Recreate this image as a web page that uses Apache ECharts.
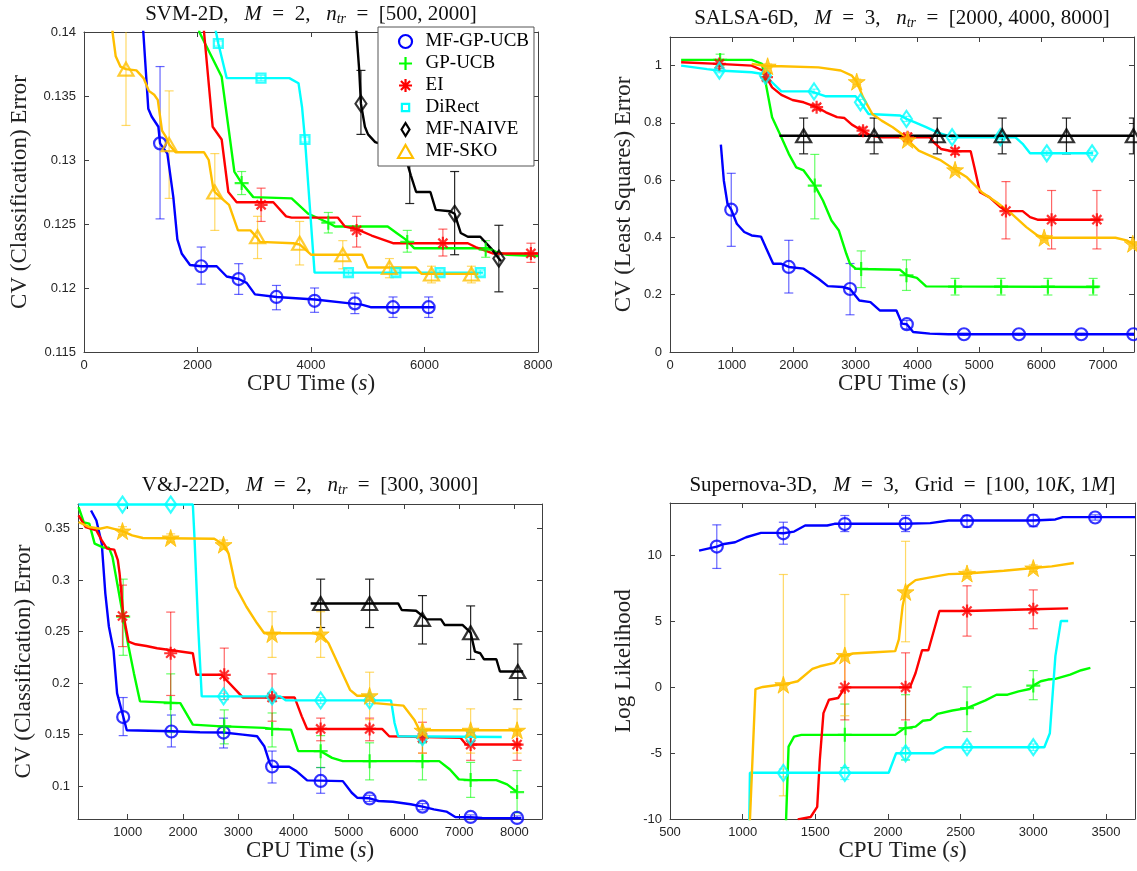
<!DOCTYPE html>
<html>
<head>
<meta charset="utf-8">
<script src="https://cdn.jsdelivr.net/npm/echarts@6/dist/echarts.min.js"></script>
<style>
  html, body { margin: 0; padding: 0; background: #fff; }
  #chart { width: 1137px; height: 871px; }
</style>
</head>
<body>
<div id="chart"></div>
<script>
// ---------- Method names ----------
const methods = ['MF-GP-UCB', 'GP-UCB', 'EI', 'DiRect', 'MF-NAIVE', 'MF-SKO'];

// ---------- SVM-2D (curve: [time, error]; marks: [time, error, low, high]) ----------
const svmXTicks = [0, 2000, 4000, 6000, 8000];
const svmYTicks = [0.115, 0.12, 0.125, 0.13, 0.135, 0.14];
const svmMfgpCurve = [[1020,0.1420],[1045,0.1400],[1133,0.1340],[1192,0.1334],[1310,0.1326],[1340,0.1313],[1469,0.1305],[1574,0.1271],[1645,0.1238],[1721,0.1227],[1868,0.1218],[2062,0.1217],[2338,0.1217],[2514,0.1209],[2725,0.1207],[2866,0.1204],[3013,0.1195],[3395,0.1193],[4070,0.1191],[4687,0.1188],[4893,0.1187],[5050,0.1185],[6170,0.1185]];
const svmMfgpMarks = [[1340,0.1313,0.1254,0.1373],[2065,0.1217,0.1203,0.1232],[2726,0.1207,0.1195,0.1219],[3391,0.1193,0.1183,0.1202],[4063,0.1190,0.1181,0.1200],[4773,0.1188,0.1180,0.1196],[5445,0.1185,0.1177,0.1193],[6073,0.1185,0.1177,0.1193]];
const svmGpCurve = [[2010,0.1410],[2032,0.1400],[2426,0.1365],[2649,0.1291],[2778,0.1282],[2983,0.1271],[3659,0.1270],[3953,0.1258],[4305,0.1251],[4423,0.1248],[5351,0.1248],[5508,0.1243],[5665,0.1238],[5822,0.1231],[7140,0.1231],[7266,0.1228],[7454,0.1226],[8000,0.1225]];
const svmGpMarks = [[2778,0.1282,0.1273,0.1291],[4305,0.1251,0.1243,0.1259],[5696,0.1236,0.1228,0.1245],[7078,0.1230,0.1224,0.1237]];
const svmEiCurve = [[2100,0.1410],[2115,0.1400],[2267,0.1326],[2426,0.1316],[2543,0.1275],[2690,0.1267],[3336,0.1267],[3561,0.1256],[3659,0.1255],[4471,0.1255],[4597,0.1248],[4804,0.1246],[5068,0.1241],[5445,0.1235],[6764,0.1235],[6900,0.1232],[7203,0.1227],[8000,0.1227]];
const svmEiMarks = [[3121,0.1265,0.1252,0.1278],[4804,0.1245,0.1232,0.1256],[6324,0.1235,0.1225,0.1246],[7875,0.1227,0.1220,0.1235]];
const svmDirectCurve = [[2290,0.1410],[2326,0.1400],[2367,0.1391],[2514,0.1364],[3618,0.1364],[3780,0.1360],[3843,0.1341],[3894,0.1316],[4063,0.1212],[7030,0.1212]];
const svmDirectMarks = [[2367,0.1391,0.1389,0.1393],[3119,0.1364,0.1362,0.1366],[3894,0.1316,0.1314,0.1318],[4660,0.1212,0.1210,0.1214],[5495,0.1212,0.1210,0.1214],[6274,0.1212,0.1210,0.1214],[6983,0.1212,0.1210,0.1214]];
const svmNaiveCurve = [[4790,0.1420],[4800,0.1400],[4850,0.1370],[4880,0.1344],[4950,0.1326],[5005,0.1320],[5131,0.1314],[5400,0.1310],[5600,0.1303],[5700,0.1297],[5759,0.1288],[5853,0.1275],[6104,0.1275],[6198,0.1261],[6450,0.1260],[6531,0.1258],[6638,0.1243],[6764,0.1240],[6983,0.1240],[7172,0.1231],[7310,0.1223],[7350,0.1221]];
const svmNaiveMarks = [[4880,0.1344,0.1320,0.1370],[5740,0.1303,0.1266,0.1340],[6531,0.1258,0.1226,0.1291],[7310,0.1223,0.1197,0.1249]];
const svmSkoCurve = [[490,0.1420],[502,0.1400],[559,0.1381],[641,0.1373],[740,0.1371],[923,0.1370],[1049,0.1364],[1143,0.1354],[1237,0.1351],[1300,0.1347],[1375,0.1323],[1444,0.1318],[1500,0.1312],[1614,0.1306],[2116,0.1306],[2198,0.1300],[2273,0.1279],[2305,0.1275],[2399,0.1271],[2556,0.1265],[2713,0.1245],[2933,0.1245],[3058,0.1239],[3100,0.1236],[3686,0.1235],[3800,0.1234],[4000,0.1226],[4900,0.1226],[5000,0.1216],[5850,0.1216],[5950,0.1211],[6950,0.1211]];
const svmSkoMarks = [[740,0.1371,0.1327,0.1415],[1500,0.1312,0.1270,0.1354],[2305,0.1275,0.1245,0.1305],[3058,0.1240,0.1223,0.1256],[3800,0.1235,0.1218,0.1252],[4560,0.1226,0.1215,0.1237],[5382,0.1216,0.1208,0.1223],[6123,0.1211,0.1204,0.1217],[6826,0.1211,0.1204,0.1217]];

// ---------- SALSA-6D ----------
const salsaXTicks = [0, 1000, 2000, 3000, 4000, 5000, 6000, 7000];
const salsaYTicks = [0, 0.2, 0.4, 0.6, 0.8, 1];
const salsaMfgpCurve = [[822,0.724],[870,0.599],[930,0.517],[990,0.497],[1080,0.448],[1200,0.419],[1320,0.407],[1470,0.403],[1560,0.36],[1668,0.308],[1800,0.308],[1920,0.297],[2160,0.291],[2400,0.256],[2550,0.230],[2790,0.227],[2910,0.220],[3060,0.180],[3240,0.174],[3390,0.145],[3660,0.145],[3750,0.099],[3828,0.097],[3930,0.070],[4200,0.064],[4500,0.062],[7500,0.062]];
const salsaMfgpMarks = [[990,0.497,0.369,0.624],[1920,0.297,0.206,0.390],[2910,0.220,0.130,0.309],[3828,0.097,0.081,0.110],[4752,0.062,0.058,0.066],[5640,0.062,0.058,0.066],[6648,0.062,0.058,0.066],[7490,0.062,0.058,0.066]];
const salsaGpCurve = [[180,1.02],[1320,1.02],[1488,1.006],[1560,0.924],[1650,0.82],[1800,0.75],[1920,0.692],[2040,0.645],[2160,0.634],[2340,0.581],[2472,0.529],[2610,0.459],[2730,0.424],[2850,0.343],[2910,0.308],[3000,0.291],[3090,0.290],[3720,0.287],[3822,0.268],[3990,0.259],[4140,0.229],[6930,0.227]];
const salsaGpMarks = [[810,1.02,1.00,1.04],[2340,0.581,0.465,0.690],[3090,0.290,0.225,0.353],[3822,0.268,0.215,0.322],[4608,0.228,0.199,0.257],[5352,0.228,0.199,0.257],[6108,0.228,0.199,0.257],[6840,0.228,0.199,0.257]];
const salsaEiCurve = [[180,1.012],[780,1.006],[1320,1.0],[1500,0.983],[1650,0.924],[1800,0.898],[1980,0.88],[2160,0.872],[2370,0.855],[2520,0.837],[2700,0.82],[2820,0.817],[2940,0.794],[3060,0.779],[3120,0.773],[3240,0.756],[3420,0.75],[4200,0.75],[4260,0.733],[4380,0.709],[4560,0.701],[4860,0.701],[4920,0.645],[5010,0.558],[5160,0.541],[5340,0.506],[5430,0.492],[5700,0.492],[5820,0.471],[5940,0.462],[6960,0.462]];
const salsaEiMarks = [[798,1.006,0.99,1.02],[1560,0.96,0.95,0.975],[2370,0.855,0.845,0.865],[3120,0.773,0.76,0.785],[3840,0.75,0.735,0.765],[4608,0.701,0.69,0.712],[5430,0.492,0.395,0.595],[6168,0.462,0.36,0.564],[6900,0.462,0.36,0.564]];
const salsaDirectCurve = [[180,1.0],[600,0.988],[780,0.983],[1320,0.977],[1500,0.971],[1542,0.965],[1650,0.942],[1800,0.91],[2280,0.91],[2520,0.893],[3000,0.893],[3078,0.872],[3210,0.831],[3720,0.826],[3822,0.814],[3960,0.802],[4140,0.785],[4320,0.767],[4560,0.75],[5580,0.75],[5700,0.727],[5820,0.694],[6840,0.694]];
const salsaDirectMarks = [[798,0.983,0.975,0.991],[1542,0.965,0.955,0.975],[2328,0.91,0.902,0.918],[3078,0.872,0.862,0.882],[3822,0.814,0.805,0.823],[4560,0.75,0.742,0.758],[5340,0.75,0.742,0.758],[6090,0.694,0.686,0.702],[6822,0.694,0.686,0.702]];
const salsaNaiveCurve = [[1770,0.755],[7500,0.755]];
const salsaNaiveMarks = [[2160,0.755,0.692,0.817],[3300,0.755,0.692,0.817],[4320,0.755,0.692,0.817],[5370,0.755,0.692,0.817],[6408,0.755,0.692,0.817],[7490,0.755,0.692,0.817]];
const salsaSkoCurve = [[1320,1.006],[1578,0.998],[1800,0.998],[2400,0.994],[2760,0.983],[2940,0.965],[3018,0.944],[3120,0.89],[3270,0.831],[3420,0.808],[3600,0.785],[3780,0.756],[3840,0.741],[4020,0.703],[4200,0.686],[4380,0.669],[4608,0.636],[4800,0.61],[5040,0.558],[5280,0.523],[5520,0.483],[5760,0.436],[5940,0.407],[6048,0.399],[7200,0.399],[7380,0.39],[7500,0.375]];
const salsaSkoMarks = [[1578,0.998,0.99,1.006],[3018,0.944,0.935,0.953],[3840,0.741,0.733,0.749],[4608,0.636,0.628,0.644],[6048,0.399,0.391,0.407],[7480,0.378,0.37,0.386]];

// ---------- V&J-22D ----------
const vjXTicks = [1000, 2000, 3000, 4000, 5000, 6000, 7000, 8000];
const vjYTicks = [0.1, 0.15, 0.2, 0.25, 0.3, 0.35];
const vjMfgpCurve = [[336,0.3677],[433,0.358],[530,0.3355],[595,0.287],[659,0.255],[743,0.232],[808,0.190],[918,0.1677],[983,0.1542],[1791,0.1532],[2308,0.1523],[2735,0.1520],[3084,0.150],[3342,0.1484],[3472,0.1387],[3569,0.1226],[3614,0.1187],[3924,0.1187],[4054,0.1145],[4248,0.1055],[4894,0.1048],[5056,0.0935],[5153,0.0887],[5379,0.0881],[5540,0.0855],[5799,0.0848],[6122,0.0823],[6336,0.0800],[6543,0.0774],[6769,0.0752],[6930,0.0700],[7208,0.0697],[7416,0.0690],[8127,0.0687]];
const vjMfgpMarks = [[918,0.167,0.149,0.186],[1791,0.153,0.138,0.169],[2735,0.152,0.137,0.166],[3614,0.119,0.103,0.134],[4493,0.105,0.093,0.118],[5379,0.088,0.085,0.091],[6336,0.080,0.077,0.083],[7208,0.070,0.068,0.072],[8049,0.069,0.067,0.071]];
const vjGpCurve = [[110,0.371],[207,0.356],[304,0.355],[401,0.3355],[562,0.3316],[659,0.3316],[724,0.3226],[821,0.2935],[918,0.2645],[1015,0.2355],[1112,0.2097],[1222,0.1823],[1952,0.1806],[2179,0.1597],[2696,0.158],[2748,0.158],[3472,0.1565],[3614,0.1555],[3957,0.1548],[4086,0.1339],[4493,0.1339],[4700,0.1274],[4894,0.1242],[6640,0.1242],[6834,0.1161],[6995,0.1065],[7208,0.1058],[7674,0.1058],[7868,0.1016],[8049,0.0942]];
const vjGpMarks = [[918,0.2645,0.227,0.301],[1778,0.1806,0.152,0.209],[2748,0.158,0.141,0.174],[3614,0.1555,0.138,0.171],[4493,0.1339,0.118,0.149],[5379,0.1242,0.106,0.142],[6336,0.1242,0.106,0.142],[7208,0.1058,0.089,0.123],[8049,0.0942,0.074,0.115]];
const vjEiCurve = [[110,0.363],[239,0.3516],[433,0.3484],[530,0.3387],[627,0.3306],[756,0.3297],[821,0.3194],[853,0.3065],[918,0.2677],[1015,0.2403],[1144,0.2377],[1338,0.2361],[1532,0.2339],[2179,0.229],[2243,0.2081],[2696,0.2081],[2955,0.1935],[3084,0.1861],[4021,0.1861],[4151,0.1677],[4248,0.1555],[5605,0.1555],[5734,0.1484],[7028,0.1468],[7125,0.1403],[8127,0.1403]];
const vjEiMarks = [[905,0.2652,0.2355,0.2952],[1778,0.229,0.188,0.269],[2748,0.2081,0.184,0.234],[3614,0.1861,0.163,0.209],[4493,0.1555,0.144,0.166],[5379,0.1555,0.144,0.166],[6336,0.147,0.132,0.162],[7208,0.1403,0.125,0.152],[8049,0.1403,0.125,0.154]];
const vjDirectCurve = [[110,0.3735],[2179,0.3735],[2211,0.3387],[2276,0.2548],[2340,0.1871],[3763,0.1871],[3860,0.1832],[5767,0.1832],[5831,0.1613],[5896,0.1484],[7771,0.1477]];
const vjDirectMarks = [[905,0.3735,0.3725,0.3745],[1778,0.3735,0.3725,0.3745],[2735,0.1871,0.184,0.190],[3614,0.1871,0.183,0.191],[4493,0.1832,0.180,0.186],[5379,0.1832,0.180,0.186],[6336,0.1475,0.142,0.153],[7208,0.1477,0.143,0.152]];
const vjNaiveCurve = [[4312,0.2774],[5896,0.2774],[5961,0.271],[6220,0.2703],[6414,0.2619],[6672,0.2619],[6737,0.2565],[7060,0.2565],[7208,0.249],[7286,0.2306],[7383,0.229],[7448,0.2232],[7674,0.2232],[7739,0.2113],[8159,0.2113]];
const vjNaiveMarks = [[4493,0.2774,0.254,0.301],[5379,0.2774,0.254,0.301],[6336,0.2619,0.238,0.285],[7208,0.249,0.223,0.275],[8062,0.2113,0.184,0.238]];
const vjSkoCurve = [[110,0.3565],[304,0.3516],[498,0.35],[627,0.3516],[905,0.3477],[1080,0.3435],[1274,0.341],[2567,0.3403],[2735,0.3345],[2826,0.3258],[2955,0.2935],[3149,0.2742],[3342,0.2581],[3472,0.2484],[4312,0.2484],[4493,0.2477],[4636,0.2387],[4830,0.2161],[5024,0.1935],[5153,0.1877],[5379,0.1877],[5476,0.1806],[5993,0.1781],[6187,0.1645],[6284,0.1542],[8127,0.1542]];
const vjSkoMarks = [[905,0.3477,0.344,0.352],[1778,0.341,0.337,0.345],[2735,0.3345,0.330,0.339],[3614,0.2477,0.225,0.2694],[4493,0.2477,0.225,0.2694],[5379,0.1877,0.1645,0.2106],[6336,0.1542,0.132,0.175],[7208,0.1542,0.132,0.175],[8049,0.1542,0.132,0.175]];

// ---------- Supernova-3D (log likelihood) ----------
const snXTicks = [500, 1000, 1500, 2000, 2500, 3000, 3500];
const snYTicks = [-10, -5, 0, 5, 10];
const snMfgpCurve = [[700,10.38],[822,10.69],[872,10.89],[948,11.02],[1024,11.4],[1126,11.73],[1227,11.73],[1280,11.7],[1354,11.83],[1430,12.29],[1582,12.29],[1632,12.42],[2114,12.42],[2291,12.47],[2418,12.67],[3000,12.67],[3152,12.75],[3203,12.93],[3700,12.93]];
const snMfgpMarks = [[822,10.69,9.03,12.34],[1280,11.7,10.87,12.54],[1703,12.4,11.83,13.05],[2121,12.42,11.83,13.05],[2544,12.62,12.16,13.05],[3000,12.67,12.2,13.1],[3426,12.9,12.7,13.1]];
const snGpCurve = [[1298,-10.3],[1316,-4.5],[1354,-3.74],[1404,-3.61],[2050,-3.61],[2114,-3.1],[2190,-2.98],[2240,-2.54],[2291,-2.47],[2342,-2.01],[2443,-1.76],[2544,-1.58],[2671,-0.99],[2747,-0.56],[2823,-0.56],[2899,-0.31],[2975,-0.13],[3000,0.13],[3051,0.46],[3101,0.59],[3152,0.64],[3254,0.97],[3330,1.3],[3393,1.48]];
const snGpMarks = [[1703,-3.61,-6.1,-1.27],[2121,-3.1,-5.52,-0.56],[2544,-1.58,-3.36,0.03],[3000,0.13,-0.94,1.27]];
const snEiCurve = [[1379,-10.03],[1468,-9.85],[1513,-9.08],[1531,-5.5],[1556,-1.96],[1594,-0.94],[1657,-0.81],[1695,-0.18],[1703,0.0],[2151,0.0],[2190,1.09],[2235,2.82],[2278,2.82],[2354,5.8],[2544,5.8],[3000,5.93],[3240,6.0]];
const snEiMarks = [[1703,0.0,-2.47,2.47],[2121,0.0,-2.47,2.62],[2544,5.8,3.89,7.71],[3000,5.93,4.45,7.4]];
const snDirectCurve = [[1045,-10.5],[1050,-6.49],[2005,-6.49],[2056,-5.01],[2316,-5.01],[2392,-4.55],[3076,-4.55],[3114,-3.49],[3152,2.37],[3190,5.04],[3240,5.04]];
const snDirectMarks = [[1280,-6.5,-6.8,-6.2],[1703,-6.5,-7.0,-6.1],[2121,-5.01,-5.5,-4.6],[2544,-4.55,-4.8,-4.3],[3000,-4.55,-4.8,-4.3]];
const snSkoCurve = [[1045,-10.5],[1050,-10.1],[1088,-0.13],[1138,0.03],[1252,0.2],[1280,0.2],[1379,0.46],[1480,1.4],[1531,1.6],[1632,1.86],[1670,2.37],[1703,2.42],[1759,2.57],[1911,2.67],[2050,2.75],[2075,3.64],[2101,6.18],[2121,7.25],[2139,7.71],[2190,8.14],[2291,8.35],[2418,8.6],[2544,8.65],[2797,8.85],[3000,9.06],[3127,9.19],[3279,9.44]];
const snSkoMarks = [[1280,0.2,-8.24,8.57],[1703,2.42,-2.16,7.05],[2121,7.25,3.46,11.09],[2544,8.65,8.4,8.9],[3000,9.06,8.8,9.3]];

// ---------- Styling ----------
const SERIF = "'Liberation Serif', 'DejaVu Serif', serif";
const SANS = "'Liberation Sans', Arial, sans-serif";
const AXIS_COLOR = '#404040';
const COLORS = {
  'MF-GP-UCB': '#0000ff', 'GP-UCB': '#00ff00', 'EI': '#ff0000',
  'DiRect': '#00ffff', 'MF-NAIVE': '#000000', 'MF-SKO': '#ffbf00'
};
const STAR = 'path://M50,0L61.23,34.55L97.55,34.55L68.16,55.9L79.39,90.45L50,69.1L20.61,90.45L31.84,55.9L2.45,34.55L38.77,34.55Z';
const SHAPES = {
  circle:   { symbol: 'circle', size: 12 },
  plus:     { symbol: 'path://M0,5L10,5M5,0L5,10', size: 14 },
  asterisk: { symbol: 'path://M0,5L10,5M5,0L5,10M1.5,1.5L8.5,8.5M1.5,8.5L8.5,1.5', size: 13 },
  square:   { symbol: 'rect', size: 9 },
  diamond:  { symbol: 'diamond', size: [11, 16] },
  triangle: { symbol: 'triangle', size: [15, 13] },
  star:     { symbol: STAR, size: 17, filled: true }
};
// legend icons (square padded so it draws smaller inside the icon box)
const LEGEND_ICONS = {
  circle: 'circle', plus: SHAPES.plus.symbol, asterisk: SHAPES.asterisk.symbol,
  square: 'path://M0,0M2.2,2.2L7.8,2.2L7.8,7.8L2.2,7.8ZM10,10',
  diamond: 'path://M5,0L9,6.5L5,13L1,6.5Z', triangle: 'path://M6,0L12,10.5L0,10.5Z'
};

const titleRich = {
  r: { fontFamily: SERIF, fontSize: 21, fontWeight: 'normal', color: '#111', lineHeight: 24 },
  i: { fontFamily: SERIF, fontSize: 21, fontWeight: 'normal', color: '#111', lineHeight: 24, fontStyle: 'italic' },
  s: { fontFamily: SERIF, fontSize: 14, fontWeight: 'normal', color: '#111', lineHeight: 8, fontStyle: 'italic', verticalAlign: 'bottom' }
};
const nameRich = {
  r: { fontFamily: SERIF, fontSize: 23, color: '#222' },
  i: { fontFamily: SERIF, fontSize: 23, color: '#222', fontStyle: 'italic' }
};

const panels = [
  { box: [84, 32, 454, 320], x: [0, 8000, svmXTicks], y: [0.115, 0.14, svmYTicks],
    title: '{r|SVM-2D,   }{i|M}{r|  =  2,   }{i|n}{s|tr}{r|  =  [500, 2000]}', titleTop: 2,
    yName: 'CV (Classification) Error', yGap: 53,
    series: [
      ['MF-GP-UCB', svmMfgpCurve, svmMfgpMarks, 'circle'],
      ['GP-UCB', svmGpCurve, svmGpMarks, 'plus'],
      ['EI', svmEiCurve, svmEiMarks, 'asterisk'],
      ['DiRect', svmDirectCurve, svmDirectMarks, 'square'],
      ['MF-NAIVE', svmNaiveCurve, svmNaiveMarks, 'diamond'],
      ['MF-SKO', svmSkoCurve, svmSkoMarks, 'triangle']
    ] },
  { box: [670, 37, 464, 315], x: [0, 7500, salsaXTicks], y: [0, 1.1, salsaYTicks],
    title: '{r|SALSA-6D,   }{i|M}{r|  =  3,   }{i|n}{s|tr}{r|  =  [2000, 4000, 8000]}', titleTop: 6,
    yName: 'CV (Least Squares) Error', yGap: 35,
    series: [
      ['MF-GP-UCB', salsaMfgpCurve, salsaMfgpMarks, 'circle'],
      ['GP-UCB', salsaGpCurve, salsaGpMarks, 'plus'],
      ['EI', salsaEiCurve, salsaEiMarks, 'asterisk'],
      ['DiRect', salsaDirectCurve, salsaDirectMarks, 'diamond'],
      ['MF-NAIVE', salsaNaiveCurve, salsaNaiveMarks, 'triangle'],
      ['MF-SKO', salsaSkoCurve, salsaSkoMarks, 'star']
    ] },
  { box: [78, 504, 464, 315], x: [100, 8500, vjXTicks], y: [0.068, 0.374, vjYTicks],
    title: '{r|V&J-22D,   }{i|M}{r|  =  2,   }{i|n}{s|tr}{r|  =  [300, 3000]}', titleTop: 473,
    yName: 'CV (Classification) Error', yGap: 43,
    series: [
      ['MF-GP-UCB', vjMfgpCurve, vjMfgpMarks, 'circle'],
      ['GP-UCB', vjGpCurve, vjGpMarks, 'plus'],
      ['EI', vjEiCurve, vjEiMarks, 'asterisk'],
      ['DiRect', vjDirectCurve, vjDirectMarks, 'diamond'],
      ['MF-NAIVE', vjNaiveCurve, vjNaiveMarks, 'triangle'],
      ['MF-SKO', vjSkoCurve, vjSkoMarks, 'star']
    ] },
  { box: [670, 503, 465, 316], x: [500, 3700, snXTicks], y: [-10, 14, snYTicks],
    title: '{r|Supernova-3D,   }{i|M}{r|  =  3,   Grid  =  [100, 10}{i|K}{r|, 1}{i|M}{r|]}', titleTop: 473,
    yName: 'Log Likelihood', yGap: 35,
    series: [
      ['MF-GP-UCB', snMfgpCurve, snMfgpMarks, 'circle'],
      ['GP-UCB', snGpCurve, snGpMarks, 'plus'],
      ['EI', snEiCurve, snEiMarks, 'asterisk'],
      ['DiRect', snDirectCurve, snDirectMarks, 'diamond'],
      ['MF-SKO', snSkoCurve, snSkoMarks, 'star']
    ] }
];

function fmt(v) { return String(Math.round(v * 1000) / 1000); }

function errorBars(color, opacity) {
  return function (params, api) {
    const x = api.value(0);
    const top = api.coord([x, api.value(3)]);
    const bot = api.coord([x, api.value(2)]);
    const w = 4.5;
    const st = () => ({ stroke: color, lineWidth: 1.2, opacity: opacity });
    return {
      type: 'group',
      children: [
        { type: 'line', shape: { x1: top[0], y1: top[1], x2: bot[0], y2: bot[1] }, style: st() },
        { type: 'line', shape: { x1: top[0] - w, y1: top[1], x2: top[0] + w, y2: top[1] }, style: st() },
        { type: 'line', shape: { x1: bot[0] - w, y1: bot[1], x2: bot[0] + w, y2: bot[1] }, style: st() }
      ]
    };
  };
}

const grid = [], xAxis = [], yAxis = [], series = [], title = [];

panels.forEach((p, k) => {
  grid.push({ left: p.box[0], top: p.box[1], width: p.box[2], height: p.box[3] });
  const line = { show: true, onZero: false, lineStyle: { color: AXIS_COLOR, width: 1 } };
  const tick = (vals) => ({ show: true, inside: true, length: 5, customValues: vals, lineStyle: { color: AXIS_COLOR } });
  const label = (vals) => ({ show: true, customValues: vals, formatter: fmt, color: '#262626',
                             fontFamily: SANS, fontSize: 13 });
  // bottom and mirrored top x axes
  xAxis.push({ type: 'value', gridIndex: k, position: 'bottom', min: p.x[0], max: p.x[1],
    axisLine: line, axisTick: tick(p.x[2]), axisLabel: Object.assign(label(p.x[2]), { margin: 7 }),
    splitLine: { show: false },
    name: '{r|CPU Time (}{i|s}{r|)}', nameLocation: 'middle', nameGap: 18,
    nameTextStyle: { rich: nameRich } });
  xAxis.push({ type: 'value', gridIndex: k, position: 'top', min: p.x[0], max: p.x[1],
    axisLine: line, axisTick: tick(p.x[2]), axisLabel: { show: false }, splitLine: { show: false } });
  // left and mirrored right y axes
  yAxis.push({ type: 'value', gridIndex: k, position: 'left', min: p.y[0], max: p.y[1],
    axisLine: line, axisTick: tick(p.y[2]), axisLabel: Object.assign(label(p.y[2]), { margin: 8 }),
    splitLine: { show: false },
    name: p.yName, nameLocation: 'middle', nameGap: p.yGap,
    nameTextStyle: { fontFamily: SERIF, fontSize: 23, color: '#222' } });
  yAxis.push({ type: 'value', gridIndex: k, position: 'right', min: p.y[0], max: p.y[1],
    axisLine: line, axisTick: tick(p.y[2]), axisLabel: { show: false }, splitLine: { show: false } });

  title.push({ text: p.title, left: p.box[0] + p.box[2] / 2, top: p.titleTop, textAlign: 'center',
    padding: 0, textStyle: { fontWeight: 'normal', fontFamily: SERIF, rich: titleRich } });

  p.series.forEach(([name, curve, marks, shapeKey]) => {
    const color = COLORS[name];
    const shape = SHAPES[shapeKey];
    const ax = { xAxisIndex: 2 * k, yAxisIndex: 2 * k };
    series.push(Object.assign({ type: 'custom', name: name, data: marks, clip: true, silent: true, z: 1,
      encode: { x: 0, y: [1, 2, 3] },
      renderItem: errorBars(color, name === 'MF-NAIVE' ? 0.85 : 0.6) }, ax));
    series.push(Object.assign({ type: 'line', name: name, data: curve, showSymbol: false, symbol: 'none',
      silent: true, z: 2, lineStyle: { color: color, width: 2.4 }, itemStyle: { color: color } }, ax));
    series.push(Object.assign({ type: 'scatter', name: name, data: marks, symbol: shape.symbol,
      symbolSize: shape.size, silent: true, z: 3, encode: { x: 0, y: 1 },
      itemStyle: { color: shape.filled ? color : 'rgba(0,0,0,0)', borderColor: color,
                   borderWidth: shape.filled ? 1 : 2.2 } }, ax));
  });
});

// legend inside the SVM-2D panel, with the markers used there
const legendShapes = ['circle', 'plus', 'asterisk', 'square', 'diamond', 'triangle'];
const legend = {
  left: 378, top: 27, orient: 'vertical', selectedMode: false,
  backgroundColor: '#fff', borderColor: '#555', borderWidth: 1, borderRadius: 0,
  padding: [5, 5, 5, 19], itemGap: 3, itemWidth: 30, itemHeight: 13,
  textStyle: { fontFamily: SERIF, fontSize: 19, color: '#000' },
  data: methods.map((m, i) => ({
    name: m, icon: LEGEND_ICONS[legendShapes[i]],
    itemStyle: { color: 'rgba(0,0,0,0)', borderColor: COLORS[m], borderWidth: 2.2 }
  }))
};

const chart = echarts.init(document.getElementById('chart'), null, { renderer: 'canvas' });
chart.setOption({
  animation: false,
  backgroundColor: '#fff',
  title: title,
  legend: legend,
  grid: grid,
  xAxis: xAxis,
  yAxis: yAxis,
  series: series
});
</script>
</body>
</html>
